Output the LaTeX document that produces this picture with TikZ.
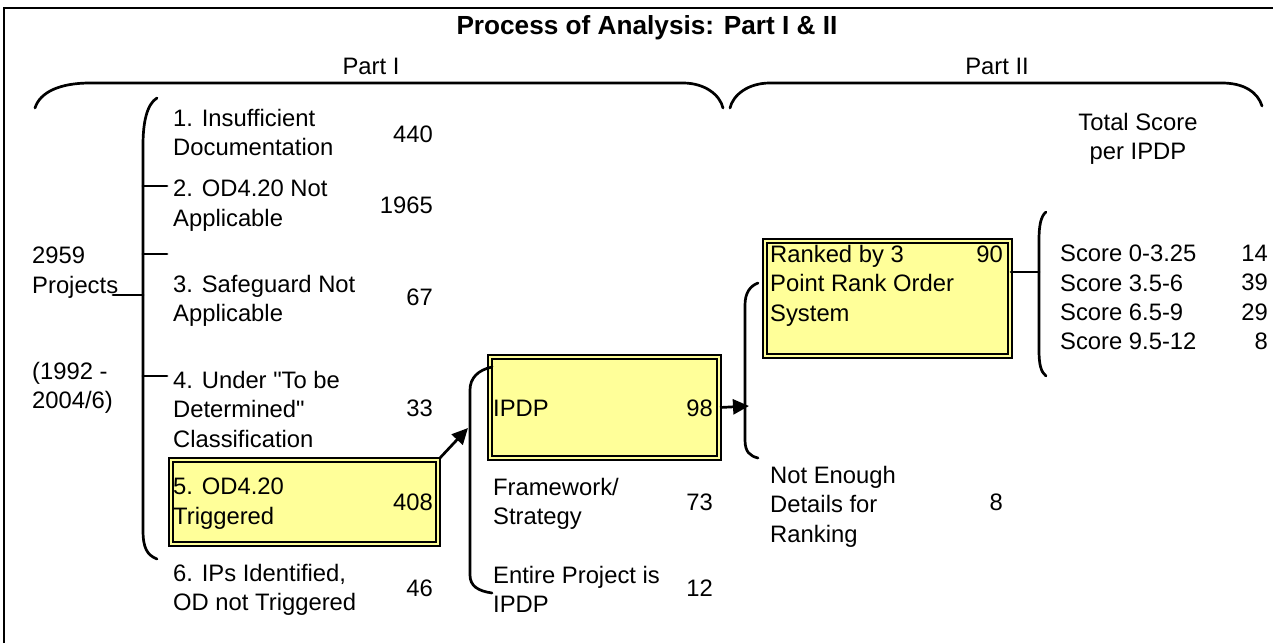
\documentclass[tikz,border=0pt]{standalone}
\usepackage{fontspec}
\setmainfont{Liberation Sans}[Ligatures=TeXOff]
\usetikzlibrary{arrows.meta}
\definecolor{boxyellow}{HTML}{FFFF99}
\begin{document}
\begin{tikzpicture}[x=1pt,y=-1pt,
  txt/.style={anchor=north west, inner sep=0pt, align=left, font=\fontsize{23.8}{29.3}\selectfont},
  num/.style={anchor=east, inner sep=0pt, font=\fontsize{23.8}{29.3}\selectfont},
  hbox/.style={draw, line width=2pt, double=boxyellow, double distance=2.4pt, fill=boxyellow, inner sep=0pt, anchor=north west},
  ln/.style={line width=2.7pt, line cap=round},
  arr/.style={line width=2.7pt, -{Triangle[length=16pt,width=15pt]}}]
\useasboundingbox (0,0) rectangle (1282,643);
% frame
\draw[line width=2.7pt] (4,643) -- (4,8) -- (1273,8);
% title and parts
\node[anchor=base, inner sep=0pt, font=\fontsize{26.2}{30}\selectfont\bfseries] (title) at (647,34) {Process of Analysis: Part I \& II};
\node[anchor=base, inner sep=0pt, font=\fontsize{23.8}{29.3}\selectfont] (p1) at (371,74) {Part I};
\node[anchor=base, inner sep=0pt, font=\fontsize{23.8}{29.3}\selectfont] (p2) at (997,74) {Part II};
% braces
\draw[ln] (35,108) .. controls (40,92) and (60,83) .. (90,83) -- (683,83) .. controls (705,83) and (720,95) .. (723,108);
\draw[ln] (730,108) .. controls (733,95) and (748,83) .. (770,83) -- (1222,83) .. controls (1245,83) and (1258,93) .. (1262,106);
% boxes
\node[hbox, minimum width=267pt, minimum height=84pt] (b5) at (170,459) {};
\node[hbox, minimum width=229pt, minimum height=101pt] (b98) at (489,356) {};
\node[hbox, minimum width=245pt, minimum height=115pt] (rk) at (764,240) {};
% left texts
\node[txt] (tot) at (32,247) {2959\\Projects};
\node[txt] (yrs) at (32,362) {(1992 -\\2004/6)};
\node[txt] (i1) at (173,109) {1. Insufficient\\Documentation};
\node[txt] (i2) at (173,180) {2. OD4.20 Not\\Applicable};
\node[txt] (i3) at (173,275) {3. Safeguard Not\\Applicable};
\node[txt] (i4) at (173,371) {4. Under "To be\\Determined"\\Classification};
\node[txt] (i5) at (173,478) {5. OD4.20\\Triggered};
\node[txt] (i6) at (173,564) {6. IPs Identified,\\OD not Triggered};
\node[num] (n1) at (433,134) {440};
\node[num] (n2) at (433,205) {1965};
\node[num] (n3) at (433,297) {67};
\node[num] (n4) at (433,408) {33};
\node[num] (n5) at (433,502) {408};
\node[num] (n6) at (433,588) {46};
% middle texts
\node[anchor=west, inner sep=0pt, font=\fontsize{23.8}{29.3}\selectfont] (ipdp) at (493,408) {IPDP};
\node[num] (n98) at (713,408) {98};
\node[txt] (fw) at (493,478) {Framework/\\Strategy};
\node[num] (n73) at (713,502) {73};
\node[txt] (ep) at (493,566) {Entire Project is\\IPDP};
\node[num] (n12) at (713,588) {12};
% right texts
\node[txt] (rkt) at (770,245) {Ranked by 3\\Point Rank Order\\System};
\node[num] (n90) at (1003,254) {90};
\node[txt] (ne) at (770,466) {Not Enough\\Details for\\Ranking};
\node[num] (n8) at (1003,502) {8};
\node[anchor=north, inner sep=0pt, align=center, font=\fontsize{23.8}{29.3}\selectfont] (ts) at (1138,113) {Total Score\\per IPDP};
\node[txt] (sc) at (1060,245) {Score 0-3.25\\Score 3.5-6\\Score 6.5-9\\Score 9.5-12};
\node[anchor=north east, inner sep=0pt, align=right, font=\fontsize{23.8}{29.3}\selectfont] (scn) at (1268,245) {14\\39\\29\\8};
% brackets
\draw[ln] (157,98) .. controls (147,104) and (143,122) .. (143,145) -- (143,530) .. controls (143,548) and (147,555) .. (157,559);
\draw[ln] (143,186) -- (167,186);
\draw[ln] (143,254) -- (167,254);
\draw[ln] (143,376) -- (167,376);
\coordinate (pl) at (113,295);
\coordinate (pr) at (143,295);
\draw[ln] (pl) -- (pr);
\draw[ln] (492,367) .. controls (478,370) and (470,378) .. (470,390) -- (470,575) .. controls (470,586) and (478,591) .. (492,593);
\draw[ln] (758,283) .. controls (750,286) and (745,293) .. (745,305) -- (745,440) .. controls (745,452) and (750,456) .. (758,458);
\draw[ln] (1046,212) .. controls (1041,216) and (1039,225) .. (1039,240) -- (1039,350) .. controls (1039,365) and (1041,372) .. (1046,376);
% connectors
\coordinate (a1tip) at (468,428);
\draw[arr] (b5.north east) -- (a1tip);
\coordinate (a2tip) at (749,406);
\draw[arr] (b98.east) -- (a2tip);
\coordinate (sbr) at (1039,272);
\draw[ln] (rk.east |- sbr) -- (sbr);
\end{tikzpicture}
\end{document}
